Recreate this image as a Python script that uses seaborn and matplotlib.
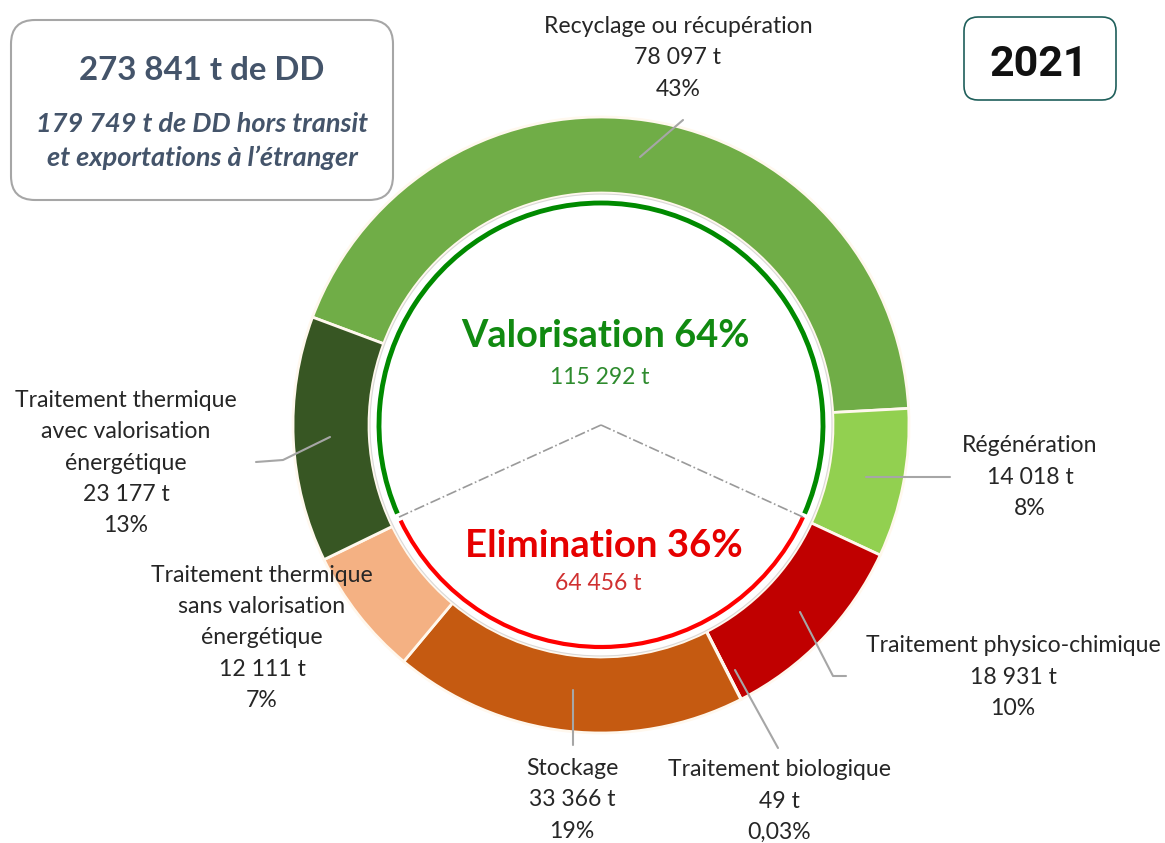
import matplotlib
matplotlib.use("Agg")
import matplotlib.pyplot as plt
import seaborn as sns
import numpy as np
from matplotlib.patches import FancyBboxPatch, Arc, Circle

# ---------------- data ----------------
categories = ["Recyclage ou récupération", "Régénération", "Traitement physico-chimique",
              "Traitement biologique", "Stockage",
              "Traitement thermique\nsans valorisation\nénergétique",
              "Traitement thermique\navec valorisation\nénergétique"]
tonnages = [78097, 14018, 18931, 49, 33366, 12111, 23177]
tonnage_labels = ["78 097 t", "14 018 t", "18 931 t", "49 t", "33 366 t", "12 111 t", "23 177 t"]
pct_labels = ["43%", "8%", "10%", "0,03%", "19%", "7%", "13%"]
colors = ["#70AD47", "#92D050", "#C00000", "#C00000", "#C55A11", "#F4B183", "#375623"]

total_label = "273 841 t de DD"
sub_label = "179 749 t de DD hors transit\net exportations à l’étranger"
year_label = "2021"
valo_label, valo_t = "Valorisation 64%", "115 292 t"
elim_label, elim_t = "Elimination 36%", "64 456 t"

# ---------------- figure ----------------
sns.set_theme(style="white")
plt.rcParams["font.family"] = ["Lato", "DejaVu Sans"]

W, H = 1165, 843
fig = plt.figure(figsize=(W / 100, H / 100), dpi=100)
ax = fig.add_axes([0, 0, 1, 1])

def Y(y):
    return H - y

cx, cy = 601, Y(425)
R, ring_w = 308, 76

ax.pie(tonnages, colors=colors, startangle=159.5, counterclock=False,
       radius=R, center=(cx, cy),
       wedgeprops=dict(width=ring_w, edgecolor="#FFF8EE", linewidth=2))
ax.set_xlim(0, W)
ax.set_ylim(0, H)
ax.set_aspect("equal")
ax.axis("off")

# inner outlines
ax.add_patch(Circle((cx, cy), R - ring_w - 1, fill=False, ec="#D9D9D9", lw=0.8))
r_in = 222
ax.add_patch(Arc((cx, cy), 2 * r_in, 2 * r_in, theta1=-23.5, theta2=203.5,
                 color="#008A00", lw=3.5))
ax.add_patch(Arc((cx, cy), 2 * r_in, 2 * r_in, theta1=205.5, theta2=335.5,
                 color="#FF0000", lw=3))

# dash-dot split lines
for ang in (204.5, -24.5):
    a = np.deg2rad(ang)
    ax.plot([cx, cx + r_in * np.cos(a)], [cy, cy + r_in * np.sin(a)],
            ls="-.", color="#9A9A9A", lw=1.2)

# centre texts
ax.text(605, Y(336), valo_label, ha="center", va="center", fontsize=27.4,
        fontweight="bold", color="#118A11")
ax.text(600, Y(378), valo_t, ha="center", va="center", fontsize=16.5, color="#2E8B2E")
ax.text(604, Y(546), elim_label, ha="center", va="center", fontsize=27.6,
        fontweight="bold", color="#E60000")
ax.text(598, Y(583), elim_t, ha="center", va="center", fontsize=16.5, color="#D03030")

# slice labels (x, y of the middle line)
label_pos = [(678, 58), (1030, 477), (1013, 677), (779, 801), (572, 800), (262, 638), (126, 463)]
lc = "#262626"
for cat, t, p, (x, y) in zip(categories, tonnage_labels, pct_labels, label_pos):
    txt = f"{cat}\n{t}\n{p}"
    ax.text(x, Y(y), txt, ha="center", va="center", fontsize=16.6, color=lc,
            linespacing=1.6)

# leader lines
leaders = [
    [(640, 157), (683, 120)],
    [(866, 477), (950, 477)],
    [(800, 612), (833, 676), (846, 676)],
    [(735, 670), (778, 748)],
    [(573, 690), (573, 745)],
    [(330, 437), (283, 460), (256, 462)],
]
for pts in leaders:
    xs = [p[0] for p in pts]
    ys = [Y(p[1]) for p in pts]
    ax.plot(xs, ys, color="#A6A6A6", lw=1.5)

# top-left box
ax.add_patch(FancyBboxPatch((11, Y(200)), 382, 180,
                            boxstyle="round,pad=0,rounding_size=24",
                            fc="white", ec="#A6A6A6", lw=1.5))
ax.text(202, Y(70), total_label, ha="center", va="center", fontsize=23.8,
        fontweight="bold", color="#44546A")
ax.text(202, Y(141), sub_label, ha="center", va="center", fontsize=19.5,
        fontweight="bold", fontstyle="italic", color="#44546A", linespacing=1.45)

# top-right year box
ax.add_patch(FancyBboxPatch((964, Y(100)), 152, 83,
                            boxstyle="round,pad=0,rounding_size=14",
                            fc="white", ec="#1F5F5B", lw=1.2))
ax.text(1039, Y(64), year_label, ha="center", va="center", fontsize=31,
        fontweight="bold", color="#111111", family=["Roboto", "DejaVu Sans"])

fig.savefig("out.png", dpi=100)
